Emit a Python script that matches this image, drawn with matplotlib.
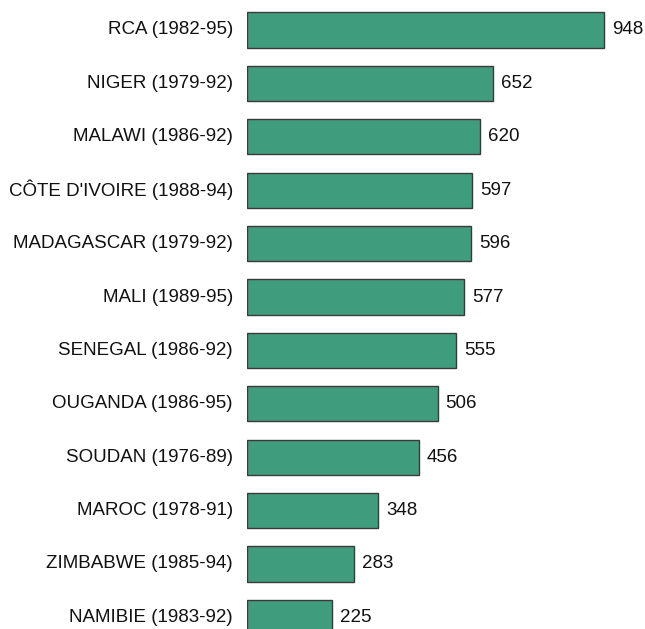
import matplotlib
matplotlib.use("Agg")
import matplotlib.pyplot as plt

countries = ["RCA (1982-95)", "NIGER (1979-92)", "MALAWI (1986-92)", "CÔTE D'IVOIRE (1988-94)",
             "MADAGASCAR (1979-92)", "MALI (1989-95)", "SENEGAL (1986-92)", "OUGANDA (1986-95)",
             "SOUDAN (1976-89)", "MAROC (1978-91)", "ZIMBABWE (1985-94)", "NAMIBIE (1983-92)"]
values = [948, 652, 620, 597, 596, 577, 555, 506, 456, 348, 283, 225]

W, H = 645, 629
fig = plt.figure(figsize=(W/100, H/100), dpi=100)
ax = fig.add_axes([247/W, 0, 1 - 247/W, 1])
plt.rcParams['font.family'] = ['Liberation Sans', 'DejaVu Sans']

pos = list(range(len(values)))
ax.barh(pos, values, height=0.66, color="#3f9d7d", edgecolor="#3a3a3a", linewidth=1.0)
ax.set_xlim(0, (W - 247) / 0.3766)
pitch = 53.4
ax.set_ylim(599 / pitch, -30 / pitch)
fam = ['Liberation Sans', 'DejaVu Sans']
for i, (c, v) in enumerate(zip(countries, values)):
    ax.text(v + 8 / 0.3766, i, f"{v}", va="center", ha="left", fontsize=13.5, family=fam, color="#111111")
    ax.text(-14 / 0.3766, i, c, va="center", ha="right", fontsize=13.5, family=fam, color="#111111")
ax.axis("off")
fig.savefig("out.png", dpi=100)
